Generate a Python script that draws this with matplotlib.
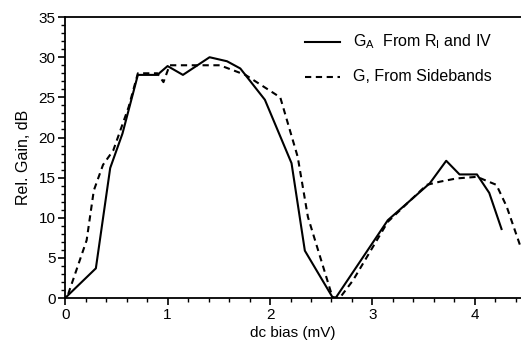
import matplotlib.pyplot as plt
from matplotlib.ticker import MultipleLocator

plt.rcParams['font.family'] = ['Liberation Sans', 'DejaVu Sans']

# G_A computed from R_I and the IV curve
bias_a = [0.0, 0.30, 0.44, 0.56, 0.71, 0.90, 1.00, 1.15, 1.41, 1.58, 1.71, 1.95,
          2.21, 2.34, 2.61, 2.64, 3.15, 3.56, 3.72, 3.85, 4.02, 4.14, 4.26]
gain_a = [0.0, 3.7, 16.2, 20.5, 27.8, 27.8, 28.9, 27.8, 30.0, 29.5, 28.6, 24.7,
          16.8, 5.9, 0.1, 0.0, 9.7, 14.3, 17.1, 15.4, 15.4, 13.1, 8.6]

# G measured from the sidebands
bias_s = [0.03, 0.21, 0.28, 0.37, 0.47, 0.62, 0.71, 0.90, 0.96, 1.02, 1.51, 1.76,
          2.10, 2.27, 2.37, 2.61, 2.68, 2.81, 3.15, 3.53, 3.66, 3.82, 4.02, 4.21,
          4.31, 4.44]
gain_s = [0.5, 7.2, 13.4, 16.6, 18.4, 23.8, 28.0, 28.0, 26.9, 29.0, 29.0, 27.8,
          25.0, 17.6, 10.1, 0.1, 0.0, 2.2, 9.5, 14.1, 14.5, 14.9, 15.1, 14.1,
          11.4, 6.6]

fig = plt.figure(figsize=(5.21, 3.49), dpi=100)
ax = fig.add_axes([0.125, 0.146, 0.875, 0.805])

ax.plot(bias_a, gain_a, color='black', lw=1.5, ls='-')
ax.plot(bias_s, gain_s, color='black', lw=1.5, ls=(0, (3, 2.2)))

ax.set_xlim(0, 4.45)
ax.set_ylim(0, 35)
ax.xaxis.set_major_locator(MultipleLocator(1))
ax.xaxis.set_minor_locator(MultipleLocator(0.2))
ax.yaxis.set_major_locator(MultipleLocator(5))
ax.yaxis.set_minor_locator(MultipleLocator(1))
ax.tick_params(which='major', direction='out', length=5, width=1.2, labelsize=11, pad=2)
ax.tick_params(which='minor', direction='out', length=3, width=1)

ax.spines['right'].set_visible(False)
for side in ['left', 'bottom', 'top']:
    ax.spines[side].set_linewidth(1.3)

ax.set_xlabel('dc bias (mV)', fontsize=11, labelpad=3)
ax.set_ylabel('Rel. Gain, dB', fontsize=11.5, labelpad=5)

# legend drawn by hand as in the original figure
ax.plot([2.34, 2.68], [31.9, 31.9], color='black', lw=1.5, clip_on=False)
ax.plot([2.34, 2.68], [27.6, 27.6], color='black', lw=1.5, ls=(0, (3, 2.2)), clip_on=False)
ax.text(2.81, 32.0, r'G$_\mathregular{A}$  From R$_\mathregular{I}$ and IV', fontsize=11.5, va='center')
ax.text(2.81, 27.6, 'G, From Sidebands', fontsize=11.5, va='center')

fig.savefig('out.png', dpi=100)
